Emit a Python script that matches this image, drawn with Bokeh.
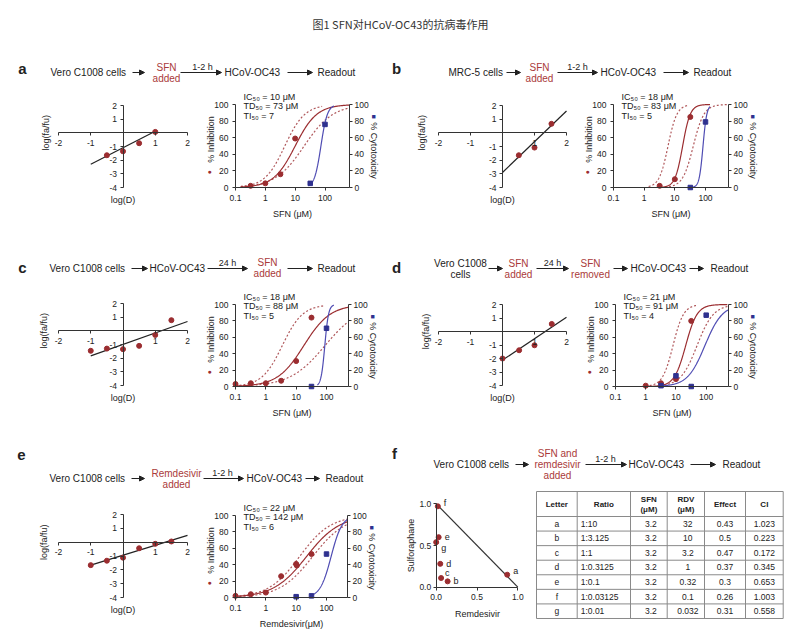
import math
import numpy as np
from bokeh.plotting import figure
from bokeh.models import (Range1d, LinearAxis, FixedTicker, Label, Arrow, NormalHead,
                          CustomJSTickFormatter, NumeralTickFormatter)
from bokeh.layouts import row, column
from bokeh.embed import file_html
from bokeh.resources import INLINE
from bokeh.core.properties import value

# ---------------------------------------------------------------- data
TITLE = "图1 SFN对HCoV-OC43的抗病毒作用"

LOG_X_TICKS = [-2, -1, 1, 2]
LOG_Y_TICKS = [-4, -3, -2, -1, 1, 2]
DOSE_TICKS = [0.1, 1, 10, 100]
PCT_TICKS = [0, 20, 40, 60, 80, 100]
ISO_TICKS = [0, 0.5, 1]

# fitted dose-response curves: [EC50 (uM), Hill slope, first dose, last dose]
# (a) Vero C1008, SFN added 1-2 h before virus
A_LOG_D = [-0.5, 0.0, 0.5, 1.0]
A_LOG_F = [-1.64, -1.35, -0.76, 0.07]
A_LINE_D = [-1.0, 1.0]
A_LINE_F = [-2.3, 0.12]
A_INH_DOSE = [0.32, 1, 3.2, 10]
A_INH = [2, 5, 16, 59]
A_CYT_DOSE = [32, 100]
A_CYT = [5, 76]
A_FIT_INH = [10, 1.2, 0.15, 650]
A_FIT_HI = [4.5, 1.3, 0.15, 80]
A_FIT_LO = [20, 0.9, 0.15, 650]
A_FIT_CYT = [73, 4.0, 28, 200]
A_STATS = ["IC₅₀ = 10 μM", "TD₅₀ = 73 μM", "TI₅₀ = 7"]

# (b) MRC-5
B_LOG_D = [0.51, 1.0, 1.53]
B_LOG_F = [-1.64, -1.08, 0.66]
B_LINE_D = [0.0, 2.0]
B_LINE_F = [-2.9, 1.6]
B_INH_DOSE = [3.2, 10, 32]
B_INH = [2, 10, 85]
B_CYT_DOSE = [32, 100]
B_CYT = [0, 79]
B_FIT_INH = [18, 3.5, 2.5, 140]
B_FIT_HI = [6, 3.0, 1.4, 27]
B_FIT_LO = [40, 2.5, 6.5, 550]
B_FIT_CYT = [83, 7.0, 32, 140]
B_STATS = ["IC₅₀ = 18 μM", "TD₅₀ = 83 μM", "TI₅₀ = 5"]

# (c) SFN added 24 h after virus
C_LOG_D = [-1.0, -0.5, 0.0, 0.5, 1.0, 1.5]
C_LOG_F = [-1.46, -1.3, -1.34, -1.1, -0.3, 0.78]
C_LINE_D = [-1.0, 2.0]
C_LINE_F = [-1.83, 0.68]
C_INH_DOSE = [0.1, 0.32, 1, 3.2, 10, 32]
C_INH = [3, 4, 4, 7, 31, 84]
C_CYT_DOSE = [32, 100]
C_CYT = [0, 71]
C_FIT_INH = [18, 1.0, 0.1, 520]
C_FIT_HI = [3.5, 1.3, 0.1, 80]
C_FIT_LO = [90, 0.75, 0.1, 520]
C_FIT_CYT = [88, 7.0, 50, 175]
C_STATS = ["IC₅₀ = 18 μM", "TD₅₀ = 88 μM", "TI₅₀ = 5"]

# (d) SFN added then removed before virus
D_LOG_D = [0.0, 0.52, 1.0, 1.54]
D_LOG_F = [-2.0, -1.39, -1.02, 0.56]
D_LINE_D = [0.0, 2.0]
D_LINE_F = [-2.12, 1.05]
D_INH_DOSE = [1, 3.2, 10, 32]
D_INH = [1, 4, 9, 80]
D_CYT_DOSE = [3.2, 10, 32, 100]
D_CYT = [1, 13, 0, 87]
D_FIT_INH = [21, 2.3, 1, 500]
D_FIT_HI = [8, 2.5, 1, 50]
D_FIT_LO = [50, 1.6, 3, 530]
D_FIT_CYT = [91, 1.5, 3, 530]
D_STATS = ["IC₅₀ = 21 μM", "TD₅₀ = 91 μM", "TI₅₀ = 4"]

# (e) Remdesivir
E_LOG_D = [-1.0, -0.5, 0.0, 0.5, 1.0, 1.5]
E_LOG_F = [-1.66, -1.34, -1.12, -0.44, -0.12, 0.05]
E_LINE_D = [-1.0, 2.0]
E_LINE_F = [-1.66, 0.49]
E_INH_DOSE = [0.1, 0.32, 1, 3.2, 10, 10.5, 32]
E_INH = [2, 4, 6, 26, 41, 39, 53]
E_CYT_DOSE = [10, 32, 100]
E_CYT = [1, 2, 53]
E_FIT_INH = [22, 0.8, 0.1, 480]
E_FIT_HI = [13, 0.85, 0.1, 480]
E_FIT_LO = [35, 0.8, 0.1, 480]
E_FIT_CYT = [142, 2.4, 35, 480]
E_STATS = ["IC₅₀ = 22 μM", "TD₅₀ = 142 μM", "TI₅₀ = 6"]

# (f) isobologram and combination table
ISO_LETTER = ["a", "b", "c", "d", "e", "f", "g"]
ISO_RDV = [0.87, 0.14, 0.06, 0.05, 0.03, 0.02, 0.0]
ISO_SFN = [0.15, 0.07, 0.11, 0.28, 0.60, 0.97, 0.54]
ISO_ADD_X = [0.0, 1.0]
ISO_ADD_Y = [1.0, 0.0]

TBL_HEADER = ["Letter", "Ratio", "SFN\n(μM)", "RDV\n(μM)", "Effect", "CI"]
TBL_LETTER = ["a", "b", "c", "d", "e", "f", "g"]
TBL_RATIO = ["1:10", "1:3.125", "1:1", "1:0.3125", "1:0.1", "1:0.03125", "1:0.01"]
TBL_SFN = ["3.2", "3.2", "3.2", "3.2", "3.2", "3.2", "3.2"]
TBL_RDV = ["32", "10", "3.2", "1", "0.32", "0.1", "0.032"]
TBL_EFFECT = ["0.43", "0.5", "0.47", "0.37", "0.3", "0.26", "0.31"]
TBL_CI = ["1.023", "0.223", "0.172", "0.345", "0.653", "1.003", "0.558"]

# ---------------------------------------------------------------- style
INK = "#222222"
AXC = "#333333"
RED = "#9B2D30"
RED_TXT = "#AA3A3A"
RED_DOT = "#B0585B"
BLUE = "#2F318F"
BLUE_LN = "#4F4CB3"
FONT = "Liberation Sans"
CJK = "Noto Sans CJK SC"
PLAIN_FMT = "return tick.toString();"


class Map:
    """pixel <-> data mapping for a figure whose frame is the whole figure"""

    def __init__(self, box, xa, ya, logx=False):
        self.box, self.logx = box, logx
        xv0, xp0, xv1, xp1 = xa
        if logx:
            xv0, xv1 = math.log10(xv0), math.log10(xv1)
        self.xv0, self.xp0, self.kx = xv0, xp0, (xv1 - xv0) / (xp1 - xp0)
        yv0, yp0, yv1, yp1 = ya
        self.yv0, self.yp0, self.ky = yv0, yp0, (yv1 - yv0) / (yp1 - yp0)

    def X(self, px):
        v = self.xv0 + (px - self.xp0) * self.kx
        return 10 ** v if self.logx else v

    def Y(self, py):
        return self.yv0 + (py - self.yp0) * self.ky

    def ranges(self):
        x0, y0, x1, y1 = self.box
        return Range1d(self.X(x0), self.X(x1)), Range1d(self.Y(y1), self.Y(y0))


def canvas(x0, y0, x1, y1):
    p = figure(width=x1 - x0, height=y1 - y0,
               x_range=Range1d(x0, x1), y_range=Range1d(y1, y0),
               x_axis_location=None, y_axis_location=None,
               toolbar_location=None, tools="", output_backend="svg",
               min_border=0)
    p.grid.visible = False
    p.outline_line_color = None
    return p


def chart(box, xr, yr, xtype="linear"):
    x0, y0, x1, y1 = box
    p = figure(width=x1 - x0, height=y1 - y0, x_range=xr, y_range=yr,
               x_axis_type=xtype, min_border=0,
               toolbar_location=None, tools="", output_backend="svg")
    p.grid.visible = False
    p.outline_line_color = None
    return p


def style(ax, tick_out=3, standoff=3, size="8.5px"):
    ax.axis_line_color = AXC
    ax.axis_line_width = 1
    ax.major_tick_line_color = AXC
    ax.major_tick_in = 0
    ax.major_tick_out = tick_out
    ax.minor_tick_line_color = None
    ax.major_label_standoff = standoff
    ax.major_label_text_font = FONT
    ax.major_label_text_font_size = size
    ax.major_label_text_color = INK


def lab(p, x, y, s, align="left", color=INK, size="10px", bold=False,
        angle=0.0, font=FONT):
    p.add_layout(Label(x=x, y=y, text=s, text_align=align, text_baseline="middle",
                       text_color=color, text_font=font, text_font_size=size,
                       text_font_style="bold" if bold else "normal", angle=angle))


def arrow(p, xa, xb, y):
    p.add_layout(Arrow(x_start=xa, y_start=y, x_end=xb, y_end=y,
                       line_color=INK, line_width=1,
                       end=NormalHead(size=5, fill_color=INK, line_color=INK,
                                      line_width=1)))


def hill(params, xmax):
    ec, h, a, b = params
    b = min(b, xmax)
    xs = np.logspace(math.log10(a), math.log10(b), 160)
    return xs, 100.0 / (1.0 + (ec / xs) ** h)


def log_panel(box, xpix, ypix, d, f, line_d, line_f, ylab_dx=15):
    # xpix: pixels of x=-2 and x=2 ; ypix: pixels of y=2 and y=-4
    m = Map(box, (-2, xpix[0], 2, xpix[1]), (2, ypix[0], -4, ypix[1]))
    xr, yr = m.ranges()
    p = chart(box, xr, yr)
    xax, yax = p.below[0], p.left[0]
    xax.fixed_location = 0
    yax.fixed_location = 0
    xax.bounds = (-2, 2)
    yax.bounds = (-4, 2)
    xax.ticker = FixedTicker(ticks=LOG_X_TICKS)
    yax.ticker = FixedTicker(ticks=LOG_Y_TICKS)
    for ax in (xax, yax):
        ax.formatter = CustomJSTickFormatter(code=PLAIN_FMT)
    style(xax, tick_out=3, standoff=4)
    style(yax, tick_out=3, standoff=3)
    p.line(line_d, line_f, line_color=INK, line_width=1.2)
    p.scatter(d, f, marker="circle", size=5, fill_color=RED, line_color=RED)
    lab(p, 0, m.Y(ypix[1] + 12), "log(D)", align="center", size="9px")
    lab(p, m.X(xpix[0] - ylab_dx), 0, "log(fa/fu)", align="center", size="9px",
        angle=math.pi / 2)
    return p


def dose_panel(box, xpix, ypix, right_px, inh_dose, inh, cyt_dose, cyt,
               fit_inh, fit_hi, fit_lo, fit_cyt, stats, xlabel):
    # xpix: pixels of 0.1 and 100 ; ypix: pixels of 100 % and 0 %
    m = Map(box, (0.1, xpix[0], 100, xpix[1]), (100, ypix[0], 0, ypix[1]), logx=True)
    xmax = m.X(right_px)
    xr, yr = m.ranges()
    p = chart(box, xr, yr, "log")
    fl, ft, fr, fb = xpix[0], ypix[0], right_px, ypix[1]
    p.extra_y_ranges = {"cyt": Range1d(yr.start, yr.end)}
    rax = LinearAxis(y_range_name="cyt")
    p.add_layout(rax, "right")
    lax, xax = p.left[0], p.below[0]
    lax.fixed_location = 0.1
    rax.fixed_location = xmax
    xax.fixed_location = 0
    for ax in (lax, rax):
        ax.ticker = FixedTicker(ticks=PCT_TICKS)
        ax.bounds = (0, 100)
    style(lax, tick_out=3, standoff=4)
    style(rax, tick_out=3, standoff=2)
    xax.bounds = (0.1, xmax)
    xax.ticker = FixedTicker(ticks=DOSE_TICKS)
    xax.formatter = CustomJSTickFormatter(code=PLAIN_FMT)
    style(xax, tick_out=3, standoff=4)

    for params, dash, color in ((fit_hi, "2 2", RED_DOT), (fit_lo, "2 2", RED_DOT),
                                (fit_inh, "solid", RED)):
        xs, ys = hill(params, xmax)
        p.line(xs, ys, line_color=color, line_width=1.2, line_dash=dash)
    xs, ys = hill(fit_cyt, xmax)
    p.line(xs, ys, line_color=BLUE_LN, line_width=1.2, y_range_name="cyt")
    p.scatter(inh_dose, inh, marker="circle", size=5, fill_color=RED, line_color=RED)
    p.scatter(cyt_dose, cyt, marker="square", size=4.5, fill_color=BLUE,
              line_color=BLUE, y_range_name="cyt")

    for i, s in enumerate(stats):
        lab(p, m.X(fl + 8), m.Y(ft - 8 + 9.5 * i), s, size="9px")
    lab(p, m.X((fl + fr) / 2), m.Y(fb + 26), xlabel, align="center", size="9px")
    lab(p, m.X(fl - 25), m.Y(ft + 35), "% Inhibition", align="center", size="9px",
        angle=math.pi / 2)
    lab(p, m.X(fl - 26), m.Y(ft + 67), "●", align="center", color=RED, size="7px")
    lab(p, m.X(fr + 24), m.Y(ft + 46), "% Cytotoxicity", align="center", size="9px",
        angle=-math.pi / 2)
    lab(p, m.X(fr + 24), m.Y(ft + 12), "■", align="center", color=BLUE, size="7px")
    return p


# ---------------------------------------------------------------- title
title = canvas(0, 0, 798, 45)
lab(title, 400, 23, TITLE, align="center", color="#333333", size="11px", font=CJK)

# ---------------------------------------------------------------- flows
fa = canvas(0, 45, 388, 92)
lab(fa, 22, 68, "a", align="center", size="15px", bold=True)
lab(fa, 50, 72, "Vero C1008 cells")
arrow(fa, 132, 144, 72)
lab(fa, 166, 67, "SFN", align="center", color=RED_TXT)
lab(fa, 166, 78, "added", align="center", color=RED_TXT)
arrow(fa, 180, 221, 72)
lab(fa, 202, 66, "1-2 h", align="center", size="9px")
lab(fa, 224, 72, "HCoV-OC43")
arrow(fa, 287, 312, 72)
lab(fa, 317, 72, "Readout")

fb_ = canvas(388, 45, 798, 92)
lab(fb_, 396, 68, "b", align="center", size="15px", bold=True)
lab(fb_, 448, 72, "MRC-5 cells")
arrow(fb_, 506, 520, 72)
lab(fb_, 539, 67, "SFN", align="center", color=RED_TXT)
lab(fb_, 539, 78, "added", align="center", color=RED_TXT)
arrow(fb_, 557, 597, 72)
lab(fb_, 577, 66, "1-2 h", align="center", size="9px")
lab(fb_, 600, 72, "HCoV-OC43")
arrow(fb_, 663, 688, 72)
lab(fb_, 693, 72, "Readout")

fc = canvas(0, 240, 388, 290)
lab(fc, 22, 267, "c", align="center", size="15px", bold=True)
lab(fc, 49, 268, "Vero C1008 cells")
arrow(fc, 131, 147, 268)
lab(fc, 149, 268, "HCoV-OC43")
arrow(fc, 207, 247, 268)
lab(fc, 227, 262, "24 h", align="center", size="9px")
lab(fc, 267, 262, "SFN", align="center", color=RED_TXT)
lab(fc, 267, 273, "added", align="center", color=RED_TXT)
arrow(fc, 287, 312, 268)
lab(fc, 317, 268, "Readout")

fd = canvas(388, 240, 798, 290)
lab(fd, 396, 267, "d", align="center", size="15px", bold=True)
lab(fd, 460, 263, "Vero C1008", align="center")
lab(fd, 460, 274, "cells", align="center")
arrow(fd, 488, 502, 268)
lab(fd, 518, 263, "SFN", align="center", color=RED_TXT)
lab(fd, 518, 274, "added", align="center", color=RED_TXT)
arrow(fd, 536, 568, 268)
lab(fd, 552, 262, "24 h", align="center", size="9px")
lab(fd, 590, 263, "SFN", align="center", color=RED_TXT)
lab(fd, 590, 274, "removed", align="center", color=RED_TXT)
arrow(fd, 613, 627, 268)
lab(fd, 630, 268, "HCoV-OC43")
arrow(fd, 689, 703, 268)
lab(fd, 710, 268, "Readout")

fe = canvas(0, 435, 388, 495)
lab(fe, 21, 454, "e", align="center", size="15px", bold=True)
lab(fe, 49, 478, "Vero C1008 cells")
arrow(fe, 131, 144, 478)
lab(fe, 176, 473, "Remdesivir", align="center", color=RED_TXT)
lab(fe, 176, 484, "added", align="center", color=RED_TXT)
arrow(fe, 203, 243, 478)
lab(fe, 222, 472, "1-2 h", align="center", size="9px")
lab(fe, 246, 478, "HCoV-OC43")
arrow(fe, 305, 319, 478)
lab(fe, 325, 478, "Readout")

ff = canvas(388, 435, 798, 488)
lab(ff, 394, 453, "f", align="center", size="15px", bold=True)
lab(ff, 433, 464, "Vero C1008 cells")
arrow(ff, 515, 528, 464)
lab(ff, 557, 453, "SFN and", align="center", color=RED_TXT)
lab(ff, 557, 464, "remdesivir", align="center", color=RED_TXT)
lab(ff, 557, 475, "added", align="center", color=RED_TXT)
arrow(ff, 585, 626, 464)
lab(ff, 605, 458, "1-2 h", align="center", size="9px")
lab(ff, 628, 464, "HCoV-OC43")
arrow(ff, 690, 715, 464)
lab(ff, 722, 464, "Readout")

# ---------------------------------------------------------------- charts
la = log_panel((0, 92, 200, 240), (58, 187), (105, 187), A_LOG_D, A_LOG_F, A_LINE_D, A_LINE_F, 13)
da = dose_panel((200, 92, 388, 240), (235, 324.5), (104, 187), 349, A_INH_DOSE, A_INH,
                A_CYT_DOSE, A_CYT, A_FIT_INH, A_FIT_HI, A_FIT_LO, A_FIT_CYT, A_STATS, "SFN (μM)")
lb = log_panel((388, 92, 580, 240), (438, 566), (105, 187), B_LOG_D, B_LOG_F, B_LINE_D, B_LINE_F, 17)
db = dose_panel((580, 92, 798, 240), (613, 705), (104, 187), 728, B_INH_DOSE, B_INH,
                B_CYT_DOSE, B_CYT, B_FIT_INH, B_FIT_HI, B_FIT_LO, B_FIT_CYT, B_STATS, "SFN (μM)")
lc = log_panel((0, 290, 200, 435), (58, 187), (303, 385), C_LOG_D, C_LOG_F, C_LINE_D, C_LINE_F, 15)
dc = dose_panel((200, 290, 388, 435), (235, 326), (304, 386), 348, C_INH_DOSE, C_INH,
                C_CYT_DOSE, C_CYT, C_FIT_INH, C_FIT_HI, C_FIT_LO, C_FIT_CYT, C_STATS, "SFN (μM)")
ld = log_panel((388, 290, 580, 435), (438, 566), (304, 385), D_LOG_D, D_LOG_F, D_LINE_D, D_LINE_F, 13)
dd = dose_panel((580, 290, 798, 435), (615, 705.7), (304, 386), 728, D_INH_DOSE, D_INH,
                D_CYT_DOSE, D_CYT, D_FIT_INH, D_FIT_HI, D_FIT_LO, D_FIT_CYT, D_STATS, "SFN (μM)")
le = log_panel((0, 495, 200, 636), (58, 187), (514, 597), E_LOG_D, E_LOG_F, E_LINE_D, E_LINE_F, 15)
de = dose_panel((200, 495, 388, 636), (235, 326), (515, 597), 347, E_INH_DOSE, E_INH,
                E_CYT_DOSE, E_CYT, E_FIT_INH, E_FIT_HI, E_FIT_LO, E_FIT_CYT, E_STATS,
                "Remdesivir(μM)")

# isobologram
iso_box = (388, 488, 530, 636)
im = Map(iso_box, (0, 435.7, 1, 517.3), (1, 503.3, 0, 586.7))
ixr, iyr = im.ranges()
iso = chart(iso_box, ixr, iyr)
for ax in (iso.below[0], iso.left[0]):
    ax.ticker = FixedTicker(ticks=ISO_TICKS)
    ax.formatter = NumeralTickFormatter(format="0.0")
    ax.fixed_location = 0
    ax.bounds = (0, 1)
style(iso.below[0], tick_out=3, standoff=4)
style(iso.left[0], tick_out=3, standoff=2)
iso.line(ISO_ADD_X, ISO_ADD_Y, line_color=AXC, line_width=1.2)
iso.scatter(ISO_RDV, ISO_SFN, marker="circle", size=5, fill_color=RED, line_color=RED)
lab(iso, im.X(477), im.Y(613), "Remdesivir", align="center", size="9px")
lab(iso, im.X(410), im.Y(545), "Sulforaphane", align="center", size="9px",
    angle=math.pi / 2)
ISO_LABEL_OFFSETS = [(6, -4), (6, 0), (4, -5), (6, 0), (6, 0), (6, -3), (5, 6)]
for letter, xv, yv, (dx, dy) in zip(ISO_LETTER, ISO_RDV, ISO_SFN, ISO_LABEL_OFFSETS):
    lab(iso, xv + dx * im.kx, yv + dy * im.ky, letter, size="9px")

# table
tb = canvas(530, 488, 798, 636)
cols = [536, 576.7, 630, 666.7, 704, 745, 782.7]
rows_y = [491, 516] + [516 + 14.57 * i for i in range(1, 8)]
tb.segment(x0=cols, y0=[rows_y[0]] * len(cols), x1=cols, y1=[rows_y[-1]] * len(cols),
           line_color="#8a8a8a", line_width=1)
tb.segment(x0=[cols[0]] * len(rows_y), y0=rows_y, x1=[cols[-1]] * len(rows_y), y1=rows_y,
           line_color="#8a8a8a", line_width=1)
centers = [(cols[i] + cols[i + 1]) / 2 for i in range(6)]
hx, hy, ht = [], [], []
for c, h in zip(centers, TBL_HEADER):
    parts = h.split("\n")
    if len(parts) == 1:
        hx.append(c); hy.append(503.5); ht.append(parts[0])
    else:
        hx += [c, c]; hy += [498.5, 508.5]; ht += parts
tb.text(x=hx, y=hy, text=ht, text_align="center", text_baseline="middle",
        text_font=value(FONT), text_font_size=value("8px"), text_font_style="bold",
        text_color=INK)
row_c = [(rows_y[i] + rows_y[i + 1]) / 2 for i in range(1, 8)]
bx, by, bt = [], [], []
for ci, colvals in ((0, TBL_LETTER), (2, TBL_SFN), (3, TBL_RDV), (4, TBL_EFFECT), (5, TBL_CI)):
    shift = 2 if ci in (2, 3) else 0
    for yv, t in zip(row_c, colvals):
        bx.append(centers[ci] + shift); by.append(yv); bt.append(t)
tb.text(x=bx, y=by, text=bt, text_align="center", text_baseline="middle",
        text_font=value(FONT), text_font_size=value("8.5px"), text_color=INK)
tb.text(x=[cols[1] + 3.5] * len(TBL_RATIO), y=row_c, text=TBL_RATIO, text_align="left",
        text_baseline="middle", text_font=value(FONT), text_font_size=value("8.5px"),
        text_color=INK)

# ---------------------------------------------------------------- layout
panel_a = column(fa, row(la, da))
panel_b = column(fb_, row(lb, db))
panel_c = column(fc, row(lc, dc))
panel_d = column(fd, row(ld, dd))
panel_e = column(fe, row(le, de))
panel_f = column(ff, row(iso, tb))
root = column(title, row(panel_a, panel_b), row(panel_c, panel_d), row(panel_e, panel_f))

open("out.html", "w").write(file_html(root, INLINE))
